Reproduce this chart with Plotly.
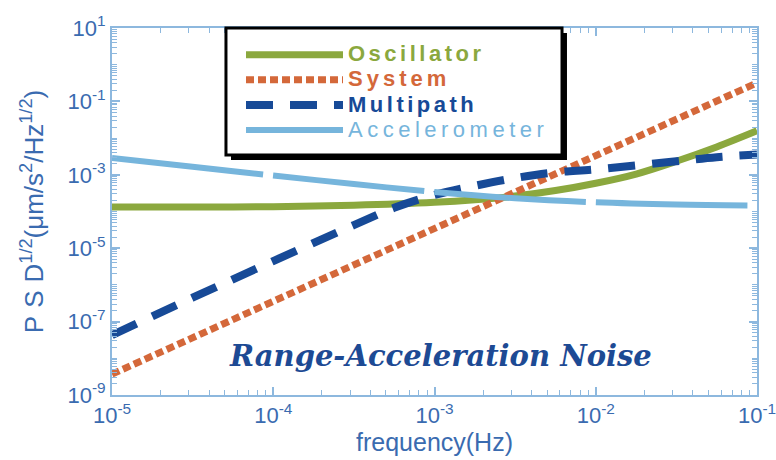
import plotly.graph_objects as go

# ---- data ----
freq_fine = [1e-5, 3.16e-5, 1e-4, 3.16e-4, 1e-3, 1.78e-3, 3.16e-3, 5.62e-3,
             1e-2, 1.78e-2, 3.16e-2, 5.62e-2, 1e-1]
oscillator = [1.32e-4, 1.32e-4, 1.35e-4, 1.48e-4, 1.78e-4, 2.09e-4, 2.63e-4, 3.72e-4,
              5.89e-4, 1.05e-3, 2.34e-3, 5.75e-3, 1.58e-2]

freq_mp = [1e-5, 3.16e-5, 1e-4, 3.16e-4, 5.62e-4, 1e-3, 1.78e-3, 3.16e-3,
           5.62e-3, 1e-2, 3.16e-2, 5.62e-2, 1e-1]
multipath = [4.27e-8, 4.47e-7, 4.47e-6, 4.27e-5, 1.26e-4, 2.82e-4, 5.01e-4, 8.13e-4,
             1.17e-3, 1.41e-3, 2.34e-3, 3.02e-3, 3.55e-3]

freq_acc = [1e-5, 3.16e-5, 1e-4, 3.16e-4, 1e-3, 3.16e-3, 1e-2, 3.16e-2, 1e-1]
accelerometer = [2.88e-3, 1.66e-3, 9.55e-4, 5.62e-4, 3.39e-4, 2.29e-4, 1.78e-4, 1.55e-4, 1.45e-4]

freq_sys = [1e-5, 1e-4, 1e-3, 1e-2, 1e-1]
system = [3.7e-9, 3.5e-7, 3.4e-5, 3.3e-3, 3.2e-1]

x_tickvals = [1e-5, 1e-4, 1e-3, 1e-2, 1e-1]
x_ticktext = ["10<sup>-5</sup>", "10<sup>-4</sup>", "10<sup>-3</sup>", "10<sup>-2</sup>", "10<sup>-1</sup>"]
y_tickvals = [1e-9, 1e-7, 1e-5, 1e-3, 1e-1, 1e1]
y_ticktext = ["10<sup>-9</sup>", "10<sup>-7</sup>", "10<sup>-5</sup>", "10<sup>-3</sup>", "10<sup>-1</sup>", "10<sup>1</sup>"]

names = ["Oscillator", "System", "Multipath", "Accelerometer"]
colors = ["#8ba83e", "#d4683a", "#174a97", "#76b5dc"]

AXIS_COL = "#8db8de"
LABEL_COL = "#3a6bb0"

fig = go.Figure()


def legend_name(name, color, bold, spacing):
    txt = f"<b>{name}</b>" if bold else name
    return (f"<span style='color:{color};font-size:22px;letter-spacing:{spacing}px'>"
            f"{txt}</span>")


fig.add_trace(go.Scatter(x=freq_fine, y=oscillator, mode="lines", line_shape="spline",
                         name=legend_name(names[0], colors[0], True, 3.5),
                         line=dict(color=colors[0], width=7)))
fig.add_trace(go.Scatter(x=freq_sys, y=system, mode="lines",
                         name=legend_name(names[1], colors[1], True, 4),
                         line=dict(color=colors[1], width=7, dash="8px,4px")))
fig.add_trace(go.Scatter(x=freq_mp, y=multipath, mode="lines", line_shape="spline",
                         name=legend_name(names[2], colors[2], True, 3.5),
                         line=dict(color=colors[2], width=8, dash="27px,17px")))
fig.add_trace(go.Scatter(x=freq_acc, y=accelerometer, mode="lines", line_shape="spline",
                         name=legend_name(names[3], colors[3], False, 4.5),
                         line=dict(color=colors[3], width=6, dash="152px,10px")))

# legend frame with drop shadow
fig.add_shape(type="rect", xref="paper", yref="paper", x0=0.1845, x1=0.7054,
              y0=0.6403, y1=0.9864, fillcolor="black", line=dict(width=0), layer="above")
fig.add_shape(type="rect", xref="paper", yref="paper", x0=0.1767, x1=0.6977,
              y0=0.654, y1=1.0, fillcolor="white", line=dict(color="black", width=3),
              layer="above")

fig.add_annotation(text="<b><i>Range-Acceleration Noise</i></b>", xref="paper", yref="paper",
                   x=0.51, y=0.105, xanchor="center", yanchor="middle", showarrow=False,
                   font=dict(family="DejaVu Serif", size=29, color="#1d4a94"))

axis_common = dict(
    type="log", showline=True, linecolor=AXIS_COL, linewidth=2, mirror="ticks",
    ticks="inside", ticklen=8, tickwidth=1.5, tickcolor=AXIS_COL,
    showgrid=False, zeroline=False, tickmode="array", ticklabeloverflow="allow",
    tickfont=dict(family="Liberation Sans", size=22, color=LABEL_COL),
    minor=dict(ticks="inside", ticklen=5, tickwidth=1, tickcolor=AXIS_COL, dtick="D1",
               tickmode="linear", showgrid=False),
)

fig.update_xaxes(**axis_common, automargin=False, range=[-5, -1],
                 tickvals=x_tickvals, ticktext=x_ticktext,
                 title=dict(text="frequency(Hz)", standoff=4,
                            font=dict(family="Liberation Sans", size=25, color=LABEL_COL)))
fig.update_yaxes(**axis_common, automargin=True, range=[-9, 1],
                 tickvals=y_tickvals, ticktext=y_ticktext,
                 title=dict(text="<span style='letter-spacing:8px'>PS</span>D<sup>1/2</sup>"
                                 "(μm/s<sup>2</sup>/Hz<sup>1/2</sup>)",
                            standoff=16,
                            font=dict(family="Liberation Sans", size=26, color=LABEL_COL)))

fig.update_layout(
    width=776, height=460,
    margin=dict(l=112, r=19, t=28, b=65, autoexpand=False),
    paper_bgcolor="white", plot_bgcolor="white",
    showlegend=True,
    legend=dict(x=0.2, y=0.975, xanchor="left", yanchor="top",
                bgcolor="rgba(0,0,0,0)", borderwidth=0, itemwidth=97,
                font=dict(family="Liberation Sans", size=17), tracegroupgap=0),
)

fig.write_html("out.html")
